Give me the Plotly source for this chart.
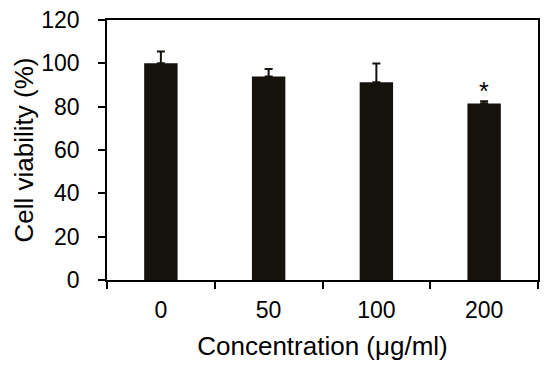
import plotly.graph_objects as go

categories = ["0", "50", "100", "200"]
viability = [100.0, 93.9, 91.3, 81.5]
errors = [5.5, 3.5, 8.6, 1.0]
significance = ["", "", "", "*"]
y_ticks = [0, 20, 40, 60, 80, 100, 120]

bar_color = "#15120d"
font_family = "Liberation Sans, Arial, sans-serif"
positions = list(range(len(categories)))

fig = go.Figure()
fig.add_trace(go.Bar(
    x=positions,
    y=viability,
    width=0.31,
    marker=dict(color=bar_color, line=dict(width=0)),
    error_y=dict(type="data", array=errors, arrayminus=[0] * len(errors),
                 symmetric=False, color=bar_color, thickness=2, width=4),
    showlegend=False,
))

for p, v, e, s in zip(positions, viability, errors, significance):
    if s:
        fig.add_annotation(x=p, y=v + e, text=s, showarrow=False,
                           yanchor="bottom", yshift=-6,
                           font=dict(size=25, color="black", family=font_family))

fig.update_layout(
    width=550, height=369,
    margin=dict(l=107, r=12, t=20, b=89),
    plot_bgcolor="white", paper_bgcolor="white",
    font=dict(family=font_family, color="black", size=23),
)
fig.update_xaxes(
    automargin=False,
    range=[-0.5, len(categories) - 0.5],
    tickmode="array", tickvals=positions, ticktext=categories, ticks="",
    minor=dict(tickmode="linear", tick0=0.5, dtick=1, ticks="outside",
               ticklen=7, tickwidth=1.5, tickcolor="black", showgrid=False),
    showline=True, linecolor="black", linewidth=1.5, mirror=True,
    showgrid=False, zeroline=False,
    tickfont=dict(size=23), ticklabelstandoff=9,
    title=dict(text="Concentration (μg/ml)", font=dict(size=26), standoff=14),
)
fig.update_yaxes(
    automargin=False,
    range=[0, 120], tickvals=y_ticks,
    showline=True, linecolor="black", linewidth=1.5, mirror=True,
    ticks="outside", ticklen=7, tickwidth=1.5, tickcolor="black",
    showgrid=False, zeroline=False,
    tickfont=dict(size=23), ticklabelstandoff=14,
    title=dict(text="Cell viability (%)", font=dict(size=26), standoff=0),
)

fig.write_html("out.html", config={"displayModeBar": False},
               post_script="document.body.style.margin='0';")
